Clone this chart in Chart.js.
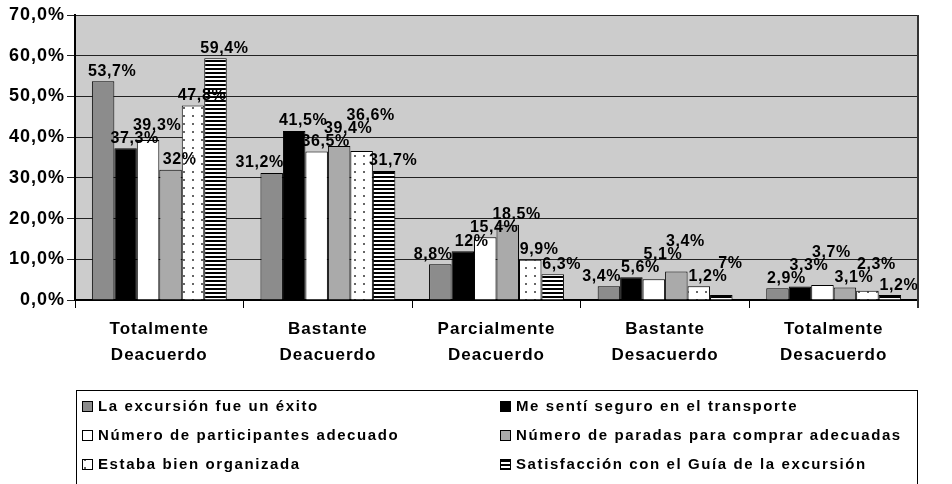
<!DOCTYPE html>
<html>
<head>
<meta charset="utf-8">
<script src="https://cdn.jsdelivr.net/npm/chart.js@4"></script>
<style>
  body { margin: 0; background: #fff; }
  #wrap { width: 952px; height: 484px; }
</style>
</head>
<body>
<div id="wrap"><canvas id="myChart" width="952" height="484"></canvas></div>
<script>
// data
const categories = [['Totalmente', 'Deacuerdo'], ['Bastante', 'Deacuerdo'], ['Parcialmente', 'Deacuerdo'], ['Bastante', 'Desacuerdo'], ['Totalmente', 'Desacuerdo']];
const seriesNames = ['La excursión fue un éxito', 'Me sentí seguro en el transporte', 'Número de participantes adecuado',
  'Número de paradas para comprar adecuadas', 'Estaba bien organizada', 'Satisfacción con el Guía de la excursión'];
const exito = [53.7, 31.2, 8.8, 3.4, 2.9];
const seguro = [37.3, 41.5, 12, 5.6, 3.3];
const participantes = [39.3, 36.5, 15.4, 5.1, 3.7];
const paradas = [32, 37.8, 18.5, 7, 3.1];
const organizada = [47.8, 36.6, 9.9, 3.4, 2.3];
const guia = [59.4, 31.7, 6.3, 1.2, 1.2];
// label text as printed on the original (some do not match their bar)
const exitoTxt = ['53,7%', '31,2%', '8,8%', '3,4%', '2,9%'];
const seguroTxt = ['37,3%', '41,5%', '12%', '5,6%', '3,3%'];
const participantesTxt = ['39,3%', '36,5%', '15,4%', '5,1%', '3,7%'];
const paradasTxt = ['32%', '39,4%', '18,5%', '3,4%', '3,1%'];
const organizadaTxt = ['47,8%', '36,6%', '9,9%', '1,2%', '2,3%'];
const guiaTxt = ['59,4%', '31,7%', '6,3%', '7%', '1,2%'];
const yTicks = [0, 10, 20, 30, 40, 50, 60, 70];

const FONT = '"Liberation Sans", Arial, sans-serif';

function dotPattern() {
  const c = document.createElement('canvas');
  c.width = 9; c.height = 8;
  const x = c.getContext('2d');
  x.fillStyle = '#fff'; x.fillRect(0, 0, 9, 8);
  x.fillStyle = '#666'; x.fillRect(3, 3, 2, 2);
  return x.createPattern(c, 'repeat');
}
function stripePattern() {
  const c = document.createElement('canvas');
  c.width = 4; c.height = 4;
  const x = c.getContext('2d');
  x.fillStyle = '#fff'; x.fillRect(0, 0, 4, 4);
  x.fillStyle = '#000'; x.fillRect(0, 0, 4, 2);
  return x.createPattern(c, 'repeat');
}

const plotBg = {
  id: 'plotBg',
  beforeDraw(chart) {
    const { ctx, chartArea: a } = chart;
    ctx.letterSpacing = '1px';   // wide Excel-like axis text
    ctx.save();
    ctx.fillStyle = '#cccccc';
    ctx.fillRect(a.left, a.top, a.right - a.left, a.bottom - a.top);
    ctx.restore();
  },
  afterDraw(chart) {
    const { ctx, chartArea: a } = chart;
    ctx.save();
    ctx.strokeStyle = '#333';
    ctx.lineWidth = 2;
    ctx.beginPath();
    ctx.moveTo(a.right, a.top);
    ctx.lineTo(a.right, a.bottom + 8);
    ctx.stroke();
    ctx.restore();
  }
};

const valueLabels = {
  id: 'valueLabels',
  afterDatasetsDraw(chart) {
    const ctx = chart.ctx;
    const texts = chart.options.plugins.valueLabels.texts;
    const n = chart.data.datasets.length;
    ctx.save();
    ctx.font = 'bold 16px ' + FONT;
    ctx.letterSpacing = '0.6px';
    ctx.fillStyle = '#000';
    ctx.textAlign = 'center';
    ctx.textBaseline = 'bottom';
    const h = 15;
    categories.forEach((c, j) => {
      const placed = [];
      for (let i = 0; i < n; i++) {
        const bar = chart.getDatasetMeta(i).data[j];
        const t = texts[i][j];
        const w = ctx.measureText(t).width;
        let cx = bar.x + 9;
        let bottom = bar.y - 2;
        // first label goes left when the next bar is taller
        if (i === 0) {
          const nb = chart.getDatasetMeta(1).data[j];
          if (nb.y < bottom) cx = nb.x - nb.width / 2 - w / 2 + 1;
        }
        let moved = true;
        while (moved) {
          moved = false;
          for (const p of placed) {
            if (Math.abs(cx - p.cx) < (w + p.w) / 2 - 4 && bottom > p.bottom - h + 2 && bottom - h < p.bottom - 2) {
              bottom = p.bottom - h + 2;
              moved = true;
            }
          }
        }
        placed.push({ cx, w, bottom });
        ctx.fillText(t, cx, bottom);
      }
    });
    ctx.restore();
  }
};

const boxLegend = {
  id: 'boxLegend',
  afterDraw(chart) {
    const { ctx, chartArea: a } = chart;
    const left = a.left + 1, top = 390;
    ctx.save();
    ctx.strokeStyle = '#000';
    ctx.lineWidth = 1;
    ctx.strokeRect(left + 0.5, top + 0.5, a.right - left - 1, 120);
    ctx.font = 'bold 15px ' + FONT;
    ctx.letterSpacing = '1.6px';
    ctx.textBaseline = 'middle';
    chart.data.datasets.forEach((ds, i) => {
      const col = i % 2, row = Math.floor(i / 2);
      const x = col === 0 ? left + 6 : left + 424;
      const y = top + 16 + row * 29;
      ctx.fillStyle = ds.backgroundColor;
      ctx.fillRect(x, y - 5, 10, 10);
      ctx.strokeStyle = '#000';
      ctx.strokeRect(x + 0.5, y - 4.5, 10, 10);
      ctx.fillStyle = '#000';
      ctx.fillText(ds.label, x + 16, y + 1);
    });
    ctx.restore();
  }
};

const ctx = document.getElementById('myChart');
const fills = ['#8c8c8c', '#000000', '#ffffff', '#aaaaaa', dotPattern(), stripePattern()];
const series = [exito, seguro, participantes, paradas, organizada, guia];

new Chart(ctx, {
  type: 'bar',
  data: {
    labels: categories,
    datasets: series.map((d, i) => ({
      label: seriesNames[i],
      data: d,
      backgroundColor: fills[i],
      borderColor: '#000',
      borderWidth: 1,
      borderSkipped: 'bottom'
    }))
  },
  options: {
    responsive: false,
    animation: false,
    layout: { padding: { top: 15, right: 34, bottom: 114, left: 0 } },
    categoryPercentage: 0.8,
    barPercentage: 1.0,
    plugins: {
      legend: { display: false },
      tooltip: { enabled: false },
      valueLabels: { texts: [exitoTxt, seguroTxt, participantesTxt, paradasTxt, organizadaTxt, guiaTxt] }
    },
    scales: {
      x: {
        afterFit(s) { s.height = 70; },
        grid: { drawOnChartArea: false, color: '#000', tickLength: 8, offset: true },
        border: { color: '#000', width: 2 },
        ticks: { color: '#000', padding: 8, font: { family: FONT, size: 17, weight: 'bold', lineHeight: 1.55 } }
      },
      y: {
        min: 0, max: 70,
        afterFit(s) { s.width = 75; },
        afterBuildTicks(s) { s.ticks = yTicks.map(v => ({ value: v })); },
        grid: { color: '#222', lineWidth: 1, tickLength: 8 },
        border: { color: '#000', width: 2 },
        ticks: {
          color: '#000', padding: 2,
          font: { family: FONT, size: 18, weight: 'bold' },
          callback: v => v.toFixed(1).replace('.', ',') + '%'
        }
      }
    }
  },
  plugins: [plotBg, valueLabels, boxLegend]
});
</script>
</body>
</html>
